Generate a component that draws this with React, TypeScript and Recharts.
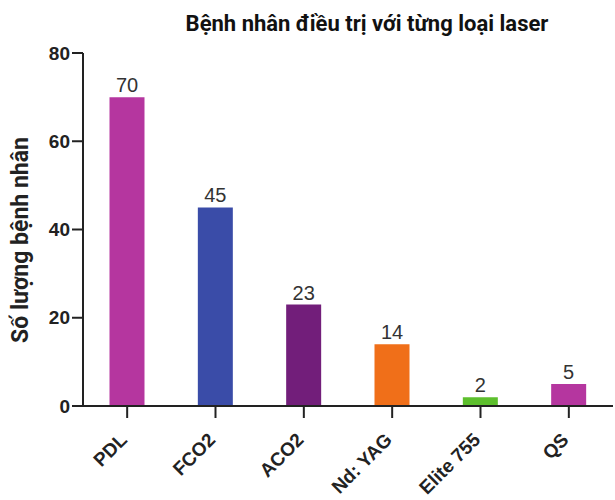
import * as React from "react";
import { BarChart, Bar, XAxis, YAxis, Cell, LabelList } from "recharts";

const lasers = ["PDL", "FCO2", "ACO2", "Nd: YAG", "Elite 755", "QS"];
const patients = [70, 45, 23, 14, 2, 5];
const barColors = ["#b5369f", "#3a4ca8", "#721e7a", "#f06f19", "#5dbf2d", "#b5369f"];
const yTicks = [0, 20, 40, 60, 80];

const AXIS = "#222";
const SANS = "Liberation Sans, Arial, sans-serif";

// category labels slanted 45°, ending just under their tick
function XTick(props: any) {
  const { x, y, payload } = props;
  return (
    <g transform={`translate(${x + 1},${y + 21})`}>
      <text transform="rotate(-45)" textAnchor="end" fontFamily={SANS} fontWeight="bold" fontSize={19} fill={AXIS}>
        {payload.value}
      </text>
    </g>
  );
}

function YTitle() {
  return (
    <text
      transform="translate(28,240) rotate(-90)"
      textAnchor="middle"
      fontFamily="Roboto, sans-serif"
      fontWeight="bold"
      fontSize={23}
      fill={AXIS}
    >
      Số lượng bệnh nhân
    </text>
  );
}

export default function App() {
  const data = React.useMemo(
    () => lasers.map((name, i) => ({ name, value: patients[i], color: barColors[i] })),
    []
  );

  return (
    <div style={{ position: "absolute", left: 0, top: 0, width: 615, height: 500, background: "#fff" }}>
      <svg width={615} height={40} style={{ position: "absolute", left: 0, top: 0 }}>
        <text x={367} y={31} textAnchor="middle" fontFamily="Roboto, sans-serif" fontWeight="bold" fontSize={22} fill="#111">
          Bệnh nhân điều trị với từng loại laser
        </text>
      </svg>
      <BarChart
        width={615}
        height={500}
        data={data}
        margin={{ top: 53, right: 2, bottom: 0, left: 23 }}
        barCategoryGap="30%"
      >
        <XAxis
          dataKey="name"
          height={94}
          tick={<XTick />}
          tickSize={12}
          interval={0}
          axisLine={{ stroke: AXIS, strokeWidth: 2 }}
          tickLine={{ stroke: AXIS, strokeWidth: 2 }}
        />
        <YAxis
          width={60}
          domain={[0, 80]}
          ticks={yTicks}
          tickSize={11}
          axisLine={{ stroke: AXIS, strokeWidth: 2 }}
          tickLine={{ stroke: AXIS, strokeWidth: 2 }}
          tick={{ fill: AXIS, fontSize: 19, fontWeight: "bold", fontFamily: SANS }}
          label={<YTitle />}
        />
        <Bar dataKey="value" isAnimationActive={false}>
          {data.map((d) => (
            <Cell key={d.name} fill={d.color} />
          ))}
          <LabelList dataKey="value" position="top" offset={5} fill="#333" fontSize={20} fontFamily={SANS} />
        </Bar>
      </BarChart>
    </div>
  );
}
